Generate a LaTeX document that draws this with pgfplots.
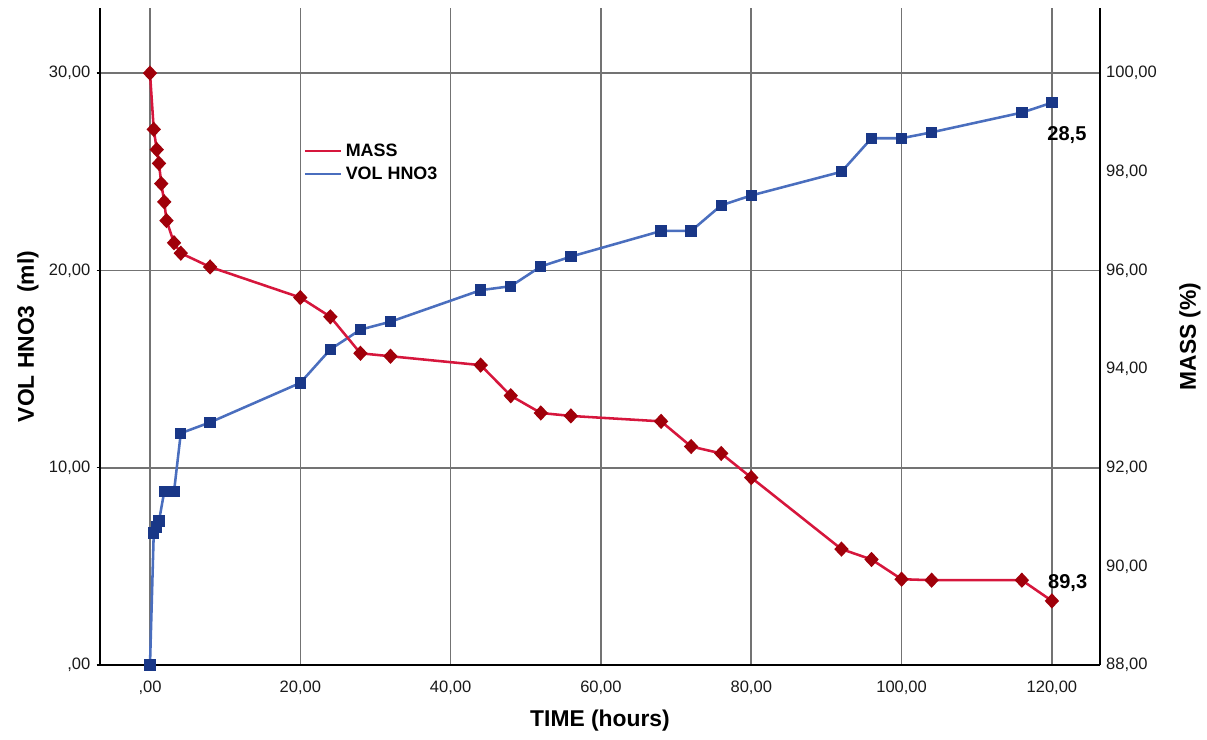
\documentclass[border=0pt]{standalone}
\usepackage{fontspec}
\setmainfont{Liberation Sans}
\usepackage{pgfplots}
\pgfplotsset{compat=1.18}

\definecolor{massline}{RGB}{214,22,60}
\definecolor{massmark}{RGB}{160,0,10}
\definecolor{volline}{RGB}{74,110,190}
\definecolor{volmark}{RGB}{25,55,135}

\pgfplotstableread{
t vol
0 0
0.5 6.7
0.9 7.0
1.2 7.3
1.9 8.8
2.2 8.8
3.2 8.8
4.1 11.75
8 12.3
20 14.3
24 16.0
28 17.0
32 17.4
44 19.0
48 19.2
52 20.2
56 20.7
68 22.0
72 22.0
76 23.3
80 23.8
92 25.0
96 26.7
100 26.7
104 27.0
116 28.0
120 28.5
}\voldata

\pgfplotstableread{
t mass
0 100
0.5 98.86
0.9 98.45
1.2 98.17
1.5 97.76
1.9 97.39
2.2 97.01
3.2 96.56
4.1 96.35
8 96.07
20 95.45
24 95.06
28 94.32
32 94.26
44 94.08
48 93.46
52 93.11
56 93.05
68 92.94
72 92.43
76 92.29
80 91.80
92 90.35
96 90.14
100 89.74
104 89.72
116 89.72
120 89.3
}\massdata

\tikzset{lbl/.style={font=\fontsize{13}{15}\selectfont\bfseries}}

\begin{document}
\begin{tikzpicture}
\pgfplotsset{
  base/.style={
    width=20cm, height=13.14cm, scale only axis,
    xmin=-6.65, xmax=126.4,
    xtick={0,20,...,120},
    tick style={draw=none},
    axis line style={black, line width=0.9pt},
    tick label style={font=\fontsize{9.4}{11}\selectfont, text=black!90},
  },
}
\begin{axis}[base,
  axis x line*=bottom, axis y line*=left,
  ymin=0, ymax=33.3,
  ytick={0,10,20,30},
  yticklabels={{,00},{10,00},{20,00},{30,00}},
  xticklabels={{,00},{20,00},{40,00},{60,00},{80,00},{100,00},{120,00}},
  xticklabel style={yshift=-0.12cm},
  ytick style={draw=black, line width=0.8pt},
  tick align=outside, major tick length=0.07cm,
  grid=major, grid style={black!55, line width=0.9pt},
  xlabel={TIME (hours)}, ylabel={VOL HNO3\ \ (ml)},
  every axis x label/.style={at={(axis description cs:0.5,-0.084)}, anchor=center, lbl},
  every axis y label/.style={at={(axis description cs:-0.072,0.5)}, rotate=90, anchor=center, lbl},
  legend style={at={(axis description cs:0.198,0.805)}, anchor=north west,
    draw=none, fill=none, font=\fontsize{10.2}{12}\selectfont\bfseries,
    row sep=0.5pt},
  legend cell align=left,
  legend image code/.code={\draw[#1] (0cm,0cm) -- (0.72cm,0cm);},
]
\addlegendimage{massline, line width=1.5pt}
\addlegendentry{MASS}
\addlegendimage{volline, line width=1.5pt}
\addlegendentry{VOL HNO3}
\addplot[volline, line width=1.45pt, mark=square*, mark size=2.5pt,
  mark options={fill=volmark, draw=volmark}, forget plot] table[x=t, y=vol] {\voldata};
\node[font=\fontsize{11.4}{13}\selectfont\bfseries] at (axis cs:122,26.86) {28,5};
\end{axis}

\begin{axis}[base,
  axis y line*=right, axis x line=none,
  ymin=88, ymax=101.32,
  ytick={88,90,...,100},
  yticklabels={{88,00},{90,00},{92,00},{94,00},{96,00},{98,00},{100,00}},
  ylabel={MASS (\%)},
  every axis y label/.style={at={(axis description cs:1.09,0.5)}, rotate=90, anchor=center, lbl},
  clip=false,
]
\addplot[massline, line width=1.45pt, mark=diamond*, mark size=3.3pt,
  mark options={fill=massmark, draw=massmark, xscale=1.25}] table[x=t, y=mass] {\massdata};
\node[font=\fontsize{11.4}{13}\selectfont\bfseries] at (axis cs:122.1,89.66) {89,3};
% page margins as in the reference
\path (rel axis cs:-0.1,-0.1126) rectangle (rel axis cs:1.107,1.0122);
\end{axis}
\end{tikzpicture}
\end{document}
